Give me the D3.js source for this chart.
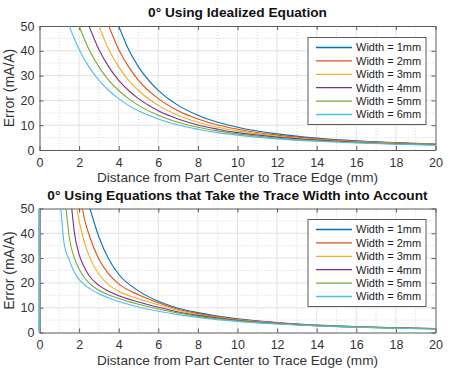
<!DOCTYPE html>
<html>
<head>
<meta charset="utf-8">
<script src="https://cdn.jsdelivr.net/npm/d3@7"></script>
<style>
  body { margin: 0; background: #fff; }
  svg { font-family: "Liberation Sans", Arial, sans-serif; }
</style>
</head>
<body>
<svg id="chart" width="450" height="376"></svg>
<script>
// widths of the trace, one curve each
var widthLabels = ["Width = 1mm", "Width = 2mm", "Width = 3mm", "Width = 4mm", "Width = 5mm", "Width = 6mm"];
var colors = ["#0072BD", "#D95319", "#EDB120", "#7E2F8E", "#77AC30", "#4DBEEE"];
var xTickLabels = [0, 2, 4, 6, 8, 10, 12, 14, 16, 18, 20];
var yTickLabels = [0, 10, 20, 30, 40, 50];

// top panel: idealized equation
var topTitle = "0\u00b0 Using Idealized Equation";
var topDist = [1.5, 2, 2.5, 3, 3.5, 4, 4.5, 5, 6, 7, 8, 9, 10, 12, 14, 16, 18, 20];
var topEntry = [4.0, 3.5, 3.0, 2.5, 2.0, 1.5];   // where each curve leaves the 50 line
var topW1 = [null, null, null, null, null, 50, 40.5, 33.5, 24.0, 18.0, 14.0, 11.2, 9.2, 6.5, 4.8, 3.7, 3.0, 2.4];
var topW2 = [null, null, null, null, 50, 40.5, 33.5, 28.1, 20.7, 15.8, 12.5, 10.1, 8.4, 6.0, 4.5, 3.5, 2.8, 2.3];
var topW3 = [null, null, null, 50, 40.5, 33.5, 28.1, 24.0, 18.0, 14.0, 11.2, 9.2, 7.7, 5.6, 4.2, 3.3, 2.7, 2.2];
var topW4 = [null, null, 50, 40.5, 33.5, 28.1, 24.0, 20.7, 15.8, 12.5, 10.1, 8.4, 7.0, 5.2, 4.0, 3.1, 2.5, 2.1];
var topW5 = [null, 50, 40.5, 33.5, 28.1, 24.0, 20.7, 18.0, 14.0, 11.2, 9.2, 7.7, 6.5, 4.8, 3.7, 3.0, 2.4, 2.0];
var topW6 = [50, 40.5, 33.5, 28.1, 24.0, 20.7, 18.0, 15.8, 12.5, 10.1, 8.4, 7.0, 6.0, 4.5, 3.5, 2.8, 2.3, 1.9];

// bottom panel: equations with the trace width
var botTitle = "0\u00b0 Using Equations that Take the Trace Width into Account";
var botDist = [1, 1.25, 1.5, 1.75, 2, 2.25, 2.5, 3, 3.5, 4, 5, 6, 7, 8, 10, 12, 14, 16, 18, 20];
var botEntry = [2.55, 2.17, 1.88, 1.63, 1.34, 1.08];
var botW1 = [null, null, null, null, null, null, null, 38.5, 29.5, 23.5, 16.8, 12.6, 9.8, 8.0, 5.5, 4.0, 3.0, 2.4, 1.9, 1.6];
var botW2 = [null, null, null, null, null, 46.5, 39.5, 29.5, 23.5, 19.6, 15.2, 12.0, 9.4, 7.6, 5.3, 3.9, 2.9, 2.35, 1.85, 1.55];
var botW3 = [null, null, null, null, 45, 37, 31, 23.5, 19.2, 16.6, 13.6, 11.2, 8.9, 7.2, 5.1, 3.75, 2.85, 2.3, 1.8, 1.5];
var botW4 = [null, null, null, 41, 31.5, 26.5, 23, 19, 16.6, 14.8, 12.3, 10.2, 8.3, 6.9, 4.9, 3.65, 2.75, 2.2, 1.8, 1.5];
var botW5 = [null, null, 38.5, 30.3, 25.6, 22.4, 20, 17, 15.1, 13.7, 11.4, 9.5, 7.9, 6.5, 4.7, 3.5, 2.7, 2.15, 1.75, 1.45];
var botW6 = [null, 35.5, 29.3, 24.5, 21.4, 19.4, 17.9, 15.6, 13.9, 12.5, 10.3, 8.6, 7.2, 6.1, 4.5, 3.4, 2.6, 2.1, 1.7, 1.4];
var botSpike = [0, 50];   // the vertical run of every curve at distance 0

var svg = d3.select("#chart");
var plotLeft = 39.5, plotRight = 435.5;

var panels = [
  { id: "top", title: topTitle, titleY: 17, dist: topDist, entry: topEntry,
    series: [topW1, topW2, topW3, topW4, topW5, topW6],
    y0: 150, y50: 26, labelY: 182, legendY: 37.5, spike: null },
  { id: "bot", title: botTitle, titleY: 200, dist: botDist, entry: botEntry,
    series: [botW1, botW2, botW3, botW4, botW5, botW6],
    y0: 332.5, y50: 208.5, labelY: 365, legendY: 219.5, spike: botSpike }
];

panels.forEach(drawPanel);

function drawPanel(p) {
  var x = d3.scaleLinear().domain([0, 20]).range([plotLeft, plotRight]);
  var y = d3.scaleLinear().domain([0, 50]).range([p.y0, p.y50]);
  var g = svg.append("g");

  // minor grid, dotted
  g.selectAll(".mx").data(d3.range(1, 20, 2)).enter().append("line")
    .attr("x1", d => x(d)).attr("x2", d => x(d))
    .attr("y1", y(0)).attr("y2", y(50))
    .attr("stroke", "#d4d4d4").attr("stroke-dasharray", "1,2");
  g.selectAll(".my").data([5, 15, 25, 35, 45]).enter().append("line")
    .attr("x1", x(0)).attr("x2", x(20))
    .attr("y1", d => y(d)).attr("y2", d => y(d))
    .attr("stroke", "#d4d4d4").attr("stroke-dasharray", "1,2");
  // major grid
  g.selectAll(".gx").data(xTickLabels.slice(1, -1)).enter().append("line")
    .attr("x1", d => x(d)).attr("x2", d => x(d))
    .attr("y1", y(0)).attr("y2", y(50))
    .attr("stroke", "#e2e2e2");
  g.selectAll(".gy").data(yTickLabels.slice(1, -1)).enter().append("line")
    .attr("x1", x(0)).attr("x2", x(20))
    .attr("y1", d => y(d)).attr("y2", d => y(d))
    .attr("stroke", "#e2e2e2");

  // axes, ticks inward on all four sides
  var axB = g.append("g").attr("transform", "translate(0," + y(0) + ")")
    .call(d3.axisBottom(x).tickValues(xTickLabels).tickSizeInner(-4).tickSizeOuter(0).tickPadding(8));
  var axL = g.append("g").attr("transform", "translate(" + x(0) + ",0)")
    .call(d3.axisLeft(y).tickValues(yTickLabels).tickSizeInner(-4).tickSizeOuter(0).tickPadding(5));
  var axT = g.append("g").attr("transform", "translate(0," + y(50) + ")")
    .call(d3.axisTop(x).tickValues(xTickLabels).tickSizeInner(-4).tickSizeOuter(0).tickFormat(""));
  var axR = g.append("g").attr("transform", "translate(" + x(20) + ",0)")
    .call(d3.axisRight(y).tickValues(yTickLabels).tickSizeInner(-4).tickSizeOuter(0).tickFormat(""));
  [axB, axL, axT, axR].forEach(function (a) {
    a.selectAll("path, line").attr("stroke", "#5a5a5a");
    a.selectAll("text").attr("fill", "#333").style("font-size", "12.5px")
      .style("font-family", "'Liberation Sans', Arial, sans-serif");
  });

  // clip
  g.append("clipPath").attr("id", "clip-" + p.id).append("rect")
    .attr("x", x(0) - 1.5).attr("y", y(50))
    .attr("width", x(20) - x(0) + 3).attr("height", y(0) - y(50));

  var line = d3.line()
    .x(d => x(d[0])).y(d => y(d[1]))
    .curve(d3.curveMonotoneX);
  var curves = g.append("g").attr("clip-path", "url(#clip-" + p.id + ")");

  p.series.forEach(function (vals, i) {
    var pts = [[p.entry[i], 50]];
    p.dist.forEach(function (d, j) {
      if (vals[j] != null && d > p.entry[i]) pts.push([d, vals[j]]);
    });
    if (p.spike) {
      curves.append("line")
        .attr("x1", x(0)).attr("x2", x(0))
        .attr("y1", y(p.spike[0])).attr("y2", y(p.spike[1]))
        .attr("stroke", colors[i]).attr("stroke-width", 1.3);
    }
    curves.append("path").datum(pts)
      .attr("d", line)
      .attr("fill", "none")
      .attr("stroke", colors[i])
      .attr("stroke-width", 1.1);
  });

  // legend
  var lg = g.append("g").attr("transform", "translate(308," + p.legendY + ")");
  lg.append("rect").attr("width", 118).attr("height", 87)
    .attr("fill", "#fff").attr("stroke", "#5a5a5a");
  widthLabels.forEach(function (lab, i) {
    var ly = 10 + i * 13.4;
    lg.append("line").attr("x1", 8).attr("x2", 44).attr("y1", ly).attr("y2", ly)
      .attr("stroke", colors[i]).attr("stroke-width", 1.3);
    lg.append("text").attr("x", 48).attr("y", ly).attr("dy", "0.35em")
      .attr("fill", "#222").style("font-size", "11px").text(lab);
  });

  // titles and labels
  g.append("text").attr("x", (x(0) + x(20)) / 2).attr("y", p.titleY)
    .attr("text-anchor", "middle").style("font-size", "13.7px").style("font-weight", "bold")
    .attr("fill", "#111").text(p.title);
  g.append("text").attr("x", (x(0) + x(20)) / 2).attr("y", p.labelY)
    .attr("text-anchor", "middle").style("font-size", "13.6px")
    .attr("fill", "#333").text("Distance from Part Center to Trace Edge (mm)");
  g.append("text")
    .attr("transform", "translate(14," + (y(25)) + ") rotate(-90)")
    .attr("text-anchor", "middle").style("font-size", "14px")
    .attr("fill", "#333").text("Error (mA/A)");
}
</script>
</body>
</html>
